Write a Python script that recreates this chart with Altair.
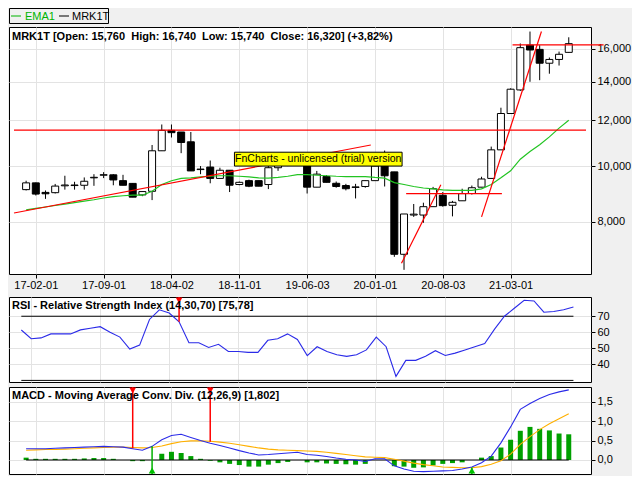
import altair as alt
import pandas as pd

# ---------------- data (monthly candles, 2017-01 .. 2021-09) ----------------
opens = [9100, 9350, 9000, 8990, 9240, 9250, 9260, 9540, 9640, 9656,
         9433, 9330, 8910, 9040, 10630, 11535, 11460, 11020, 9860, 9960,
         9518, 9834, 9288, 9433, 9433, 9288, 9934, 10050, 10350, 10150,
         9190, 9590, 9334, 9251, 9180, 9215, 9433, 10000, 9770, 7026,
         8220, 8220, 8500, 8898, 8548, 8703, 8960, 9190, 9518, 10670,
         12340, 13560, 16220, 15950, 15090, 15320, 15760]
highs = [9430, 9360, 9070, 9310, 9620, 9390, 9555, 9680, 9760, 9680,
         9656, 9340, 9030, 10880, 11810, 11810, 11460, 11460, 10000, 10224,
         9934, 9834, 9400, 9470, 9433, 10000, 10200, 10500, 10450, 10150,
         9807, 9645, 9400, 9313, 9313, 9440, 10100, 10640, 9770, 8255,
         8592, 8636, 9200, 9013, 8700, 9133, 9250, 9581, 10810, 12630,
         13650, 16330, 17130, 16220, 15440, 15810, 16740]
lows = [9070, 8890, 8770, 8960, 9100, 9100, 9100, 9240, 9530, 9260,
        9260, 8830, 8865, 8727, 10630, 11210, 10530, 9807, 9680, 9334,
        9518, 9013, 9260, 9190, 9226, 9120, 9810, 10000, 10050, 8960,
        9190, 9370, 9170, 9073, 8785, 9170, 9433, 9215, 6955, 6602,
        8160, 7970, 8500, 8500, 8177, 8703, 8923, 9190, 9518, 10670,
        12340, 13510, 14010, 14100, 14470, 14950, 15740]
closes = [9350, 8940, 8950, 9230, 9270, 9270, 9410, 9560, 9660, 9460,
          9260, 8830, 9030, 10630, 11535, 11430, 10990, 9807, 9880, 9518,
          9834, 9262, 9370, 9226, 9226, 9934, 10050, 10350, 10150, 9190,
          9682, 9370, 9215, 9133, 9200, 9433, 10000, 9618, 7026, 8255,
          8250, 8500, 9133, 8535, 8650, 8957, 9170, 9496, 10670, 12340,
          13600, 16060, 15910, 15090, 15320, 15640, 16320]
ema1 = [8390, 8440, 8490, 8540, 8590, 8640, 8690, 8740, 8800, 8850,
        8880, 8900, 8900, 9040, 9290, 9430, 9520, 9540, 9580, 9600,
        9620, 9620, 9600, 9580, 9540, 9530, 9560, 9600, 9660, 9660,
        9640, 9620, 9600, 9590, 9590, 9590, 9555, 9530, 9360, 9290,
        9215, 9160, 9130, 9090, 9070, 9070, 9070, 9130, 9290, 9540,
        9810, 10280, 10600, 10890, 11240, 11640, 12010]
rsi = [61.4, 56, 56.5, 59, 59, 59, 61.5, 62.5, 63.5, 60,
       57, 49.5, 52, 68, 74, 72, 66.5, 53.5, 53.5, 50.5,
       52.5, 48, 48, 47.5, 47.5, 55, 56, 59, 55.5, 45.5,
       51, 48, 46, 45, 46, 49, 57, 51, 32.5, 42.5,
       42.5, 45, 48.5, 45.5, 47, 49, 51, 53, 62, 70,
       75, 80, 79.5, 72.5, 73, 74, 75.78]
macd = [0.29, 0.29, 0.29, 0.30, 0.31, 0.32, 0.33, 0.34, 0.35, 0.34,
        0.33, 0.29, 0.25, 0.35, 0.52, 0.63, 0.66, 0.58, 0.50, 0.43,
        0.37, 0.31, 0.24, 0.18, 0.13, 0.14, 0.16, 0.18, 0.20, 0.14,
        0.12, 0.09, 0.05, 0.02, 0.00, -0.04, 0.03, 0.03, -0.15, -0.23,
        -0.29, -0.30, -0.29, -0.28, -0.27, -0.23, -0.18, -0.07, 0.10, 0.44,
        0.85, 1.30, 1.45, 1.58, 1.68, 1.75, 1.802]
signal = [0.25, 0.26, 0.27, 0.27, 0.28, 0.29, 0.30, 0.31, 0.32, 0.33,
          0.33, 0.32, 0.31, 0.32, 0.36, 0.42, 0.47, 0.49, 0.49, 0.48,
          0.46, 0.43, 0.39, 0.35, 0.31, 0.28, 0.26, 0.25, 0.24, 0.23,
          0.22, 0.20, 0.17, 0.14, 0.11, 0.08, 0.07, 0.06, 0.02, -0.03,
          -0.08, -0.12, -0.15, -0.18, -0.19, -0.20, -0.20, -0.17, -0.11, -0.02,
          0.15, 0.40, 0.60, 0.78, 0.93, 1.06, 1.19]
hist = [0.06, 0.03, 0.03, 0.03, 0.03, 0.03, 0.04, 0.05, 0.05, 0.03,
        0.0, -0.03, -0.03, 0.0, 0.16, 0.21, 0.18, 0.10, 0.03, -0.02,
        -0.06, -0.10, -0.13, -0.17, -0.17, -0.12, -0.08, -0.05, 0.0, -0.06,
        -0.06, -0.09, -0.10, -0.11, -0.12, -0.10, 0.0, 0.0, -0.16, -0.17,
        -0.20, -0.19, -0.14, -0.10, -0.08, -0.06, 0.0, 0.06, 0.10, 0.32,
        0.52, 0.75, 0.85, 0.80, 0.76, 0.68, 0.66]

tick_idx = [1, 8, 15, 22, 29, 36, 43, 50]
tick_labels = ["17-02-01", "17-09-01", "18-04-02", "18-11-01",
               "19-06-03", "20-01-01", "20-08-03", "21-03-01"]
price_ticks = [8000, 10000, 12000, 14000, 16000]
rsi_ticks = [40, 50, 60, 70]
macd_ticks = [0.0, 0.5, 1.0, 1.5]

# user-drawn trend lines (start idx, start price, end idx, end price)
tl_x1 = [-1.25, -1.25, 38.74, 39.22, 47.0, 50.2]
tl_y1 = [11550, 8287, 6777, 8957, 8159, 16240]
tl_x2 = [57.78, 35.57, 42.8, 49.1, 53.18, 59.6]
tl_y2 = [11550, 10880, 9277, 8957, 17130, 16240]

# indicator signals
rsi_sell_idx = [16]
rsi_sell_val = [66.5]
macd_sell_idx = [11, 19]
macd_sell_val = [0.30, 0.47]
macd_buy_idx = [13, 46]
macd_buy_val = [0.35, -0.19]

X_DOMAIN = [-1.25, 57.78]
P_DOMAIN = [6493, 17444]
R_DOMAIN = [29, 82]
M_DOMAIN = [-0.36, 1.875]

# ---------------- layout ----------------
W = 582
HL, HP, HR, HM = 15, 247, 85, 87
FONT = "Liberation Sans"
GRID = "#e3e3e3"

n = len(opens)
df = pd.DataFrame({"i": list(range(n)), "o": opens, "h": highs, "l": lows,
                   "c": closes, "ema": ema1, "rsi": rsi, "macd": macd,
                   "sig": signal, "hist": hist})

xscale = alt.Scale(domain=X_DOMAIN, nice=False, zero=False)
label_expr = ("[" + ",".join("'%s'" % s for s in tick_labels) + "][indexof(["
              + ",".join(str(v) for v in tick_idx) + "], datum.value)]")
x_axis_price = alt.Axis(values=tick_idx, labelExpr=label_expr, grid=True,
                        gridColor=GRID, ticks=True, tickSize=4, tickColor="black",
                        domain=False, labelFont=FONT, labelFontSize=11,
                        labelColor="black", labelPadding=1, title=None,
                        minExtent=18, maxExtent=18, labelFlush=False,
                        labelOverlap=False, tickCount=30)
x_axis_plain = alt.Axis(values=tick_idx, labels=False, ticks=False, grid=True,
                        gridColor=GRID, domain=False, title=None,
                        minExtent=0, maxExtent=0, tickCount=30)


def y_axis(values, expr):
    return alt.Axis(orient="right", values=values, tickCount=30, grid=True,
                    gridColor=GRID, tickSize=4, tickColor="black", domain=False,
                    labelFont=FONT, labelFontSize=11, labelColor="black",
                    labelPadding=2, title=None, labelOverlap=False,
                    labelBound=False, labelFlush=False, labelExpr=expr)


def title_layer(text, y):
    return alt.Chart(pd.DataFrame({"t": [text]})).mark_text(
        align="left", baseline="middle", font=FONT, fontSize=11,
        fontWeight="bold", color="black").encode(
        x=alt.value(3), y=alt.value(y), text="t:N")


# ---------------- legend strip ----------------
leg_df = pd.DataFrame({"k": [0]})
leg_box = alt.Chart(leg_df).mark_rect(fill="#f0f0f0", stroke="black",
                                      strokeWidth=1).encode(
    x=alt.value(0.5), x2=alt.value(99.5), y=alt.value(0.5), y2=alt.value(15.5))
leg_items = pd.DataFrame({"t": ["EMA1", "MRK1T"], "tx": [16, 63],
                          "d1": [2, 50], "d2": [12, 60],
                          "col": ["#00b400", "#000000"]})
leg_dash = alt.Chart(leg_items).mark_rule(strokeWidth=1).encode(
    x=alt.X("d1:Q", scale=None), x2="d2:Q", y=alt.value(8),
    color=alt.Color("col:N", scale=None))
leg_text = alt.Chart(leg_items).mark_text(
    align="left", baseline="middle", font=FONT, fontSize=11).encode(
    x=alt.X("tx:Q", scale=None), y=alt.value(8.5), text="t:N",
    color=alt.Color("col:N", scale=None))
legend = alt.layer(leg_box, leg_dash, leg_text).properties(
    width=W, height=HL,
    view=alt.ViewBackground(fillOpacity=0, strokeOpacity=0))

# ---------------- price panel ----------------
pscale = alt.Scale(type="log", domain=P_DOMAIN, nice=False)
base = alt.Chart(df)
wicks = base.mark_rule(color="black", strokeWidth=1).encode(
    x=alt.X("i:Q", scale=xscale, axis=x_axis_price),
    y=alt.Y("l:Q", scale=pscale,
            axis=y_axis(price_ticks, "format(datum.value, ',d')")),
    y2="h:Q")
bodies = base.mark_bar(size=7, stroke="black", strokeWidth=1).encode(
    x="i:Q", y="o:Q", y2="c:Q",
    fill=alt.condition("datum.c >= datum.o", alt.value("white"), alt.value("black")))
ema_line = base.mark_line(color="#22c422", strokeWidth=1.2).encode(
    x="i:Q", y="ema:Q")
tl_df = pd.DataFrame({"x1": tl_x1, "y1": tl_y1, "x2": tl_x2, "y2": tl_y2})
trend = alt.Chart(tl_df).mark_rule(color="#ff0000", strokeWidth=1.2).encode(
    x="x1:Q", x2="x2:Q", y="y1:Q", y2="y2:Q")
wm_df = pd.DataFrame({"x1": [21.5], "x2": [38.8], "y1": [10570], "y2": [10000],
                      "xm": [30.15], "ym": [10280],
                      "t": ["FnCharts - unlicensed (trial) version"]})
wm_box = alt.Chart(wm_df).mark_rect(fill="#ffff00", stroke="black",
                                    strokeWidth=1).encode(
    x="x1:Q", x2="x2:Q", y="y1:Q", y2="y2:Q")
wm_text = alt.Chart(wm_df).mark_text(font=FONT, fontSize=10.5, color="black",
                                     align="center", baseline="middle").encode(
    x="xm:Q", y="ym:Q", text="t:N")
p_title = title_layer("MRK1T [Open: 15,760 \u00a0High: 16,740 \u00a0Low: 15,740 "
                      "\u00a0Close: 16,320] (+3,82%)", 10)
price = alt.layer(wicks, bodies, ema_line, trend, wm_box, wm_text, p_title).properties(
    width=W, height=HP)

# ---------------- RSI panel ----------------
rscale = alt.Scale(domain=R_DOMAIN, nice=False, zero=False)
lv_df = pd.DataFrame({"a": [0, 0], "b": [n - 1, n - 1], "v": [70, 30]})
rsi_levels = alt.Chart(lv_df).mark_rule(color="black", strokeWidth=1).encode(
    x=alt.X("a:Q", scale=xscale, axis=x_axis_plain),
    x2="b:Q",
    y=alt.Y("v:Q", scale=rscale, axis=y_axis(rsi_ticks, "format(datum.value, 'd')")))
rsi_line = base.mark_line(color="#2b2be8", strokeWidth=1.1).encode(
    x="i:Q", y="rsi:Q")
rs_df = pd.DataFrame({"i": rsi_sell_idx, "v": rsi_sell_val})
rsi_sig = alt.Chart(rs_df).mark_rule(color="#ff0000", strokeWidth=1.5).encode(
    x="i:Q", y="v:Q", y2=alt.value(0))
rsi_tri = alt.Chart(rs_df).mark_point(shape="triangle-down", filled=True,
                                      color="#ff0000", size=45, opacity=1).encode(
    x="i:Q", y=alt.value(3.5))
r_title = title_layer("RSI - Relative Strength Index (14,30,70) [75,78]", 9)
rsi_chart = alt.layer(rsi_levels, rsi_line, rsi_sig, rsi_tri, r_title).properties(
    width=W, height=HR)

# ---------------- MACD panel ----------------
mscale = alt.Scale(domain=M_DOMAIN, nice=False, zero=False)
hist_bars = base.mark_bar(size=5, color="#00a000").encode(
    x=alt.X("i:Q", scale=xscale, axis=x_axis_plain),
    y=alt.Y("hist:Q", scale=mscale,
            axis=y_axis(macd_ticks, "replace(format(datum.value, '.1f'), '.', ',')")),
    y2=alt.datum(0))
z_df = pd.DataFrame({"a": [0], "b": [n - 1], "v": [0]})
zero_line = alt.Chart(z_df).mark_rule(color="black", strokeWidth=1).encode(
    x="a:Q", x2="b:Q", y="v:Q")
sig_line = base.mark_line(color="#ffb000", strokeWidth=1.1).encode(x="i:Q", y="sig:Q")
macd_line = base.mark_line(color="#2b2be8", strokeWidth=1.1).encode(x="i:Q", y="macd:Q")
ms_df = pd.DataFrame({"i": macd_sell_idx, "v": macd_sell_val})
mb_df = pd.DataFrame({"i": macd_buy_idx, "v": macd_buy_val})
m_sell = alt.Chart(ms_df).mark_rule(color="#ff0000", strokeWidth=1.5).encode(
    x="i:Q", y="v:Q", y2=alt.value(0))
m_sell_tri = alt.Chart(ms_df).mark_point(shape="triangle-down", filled=True,
                                         color="#ff0000", size=45, opacity=1).encode(
    x="i:Q", y=alt.value(3.5))
m_buy = alt.Chart(mb_df).mark_rule(color="#00b000", strokeWidth=1.5).encode(
    x="i:Q", y="v:Q", y2=alt.value(HM))
m_buy_tri = alt.Chart(mb_df).mark_point(shape="triangle-up", filled=True,
                                        color="#00c000", size=45, opacity=1).encode(
    x="i:Q", y=alt.value(HM - 3.5))
m_title = title_layer("MACD - Moving Average Conv. Div. (12,26,9) [1,802]", 9)
macd_chart = alt.layer(hist_bars, zero_line, sig_line, macd_line, m_sell,
                       m_sell_tri, m_buy, m_buy_tri, m_title).properties(
    width=W, height=HM)

chart = alt.vconcat(legend, price, rsi_chart, macd_chart, spacing=2).properties(
    background="#f0f0f0", padding=0
).configure_view(
    fill="white", stroke="black", strokeWidth=1
)

chart.save("out.html", embed_options={"renderer": "svg", "actions": False})
